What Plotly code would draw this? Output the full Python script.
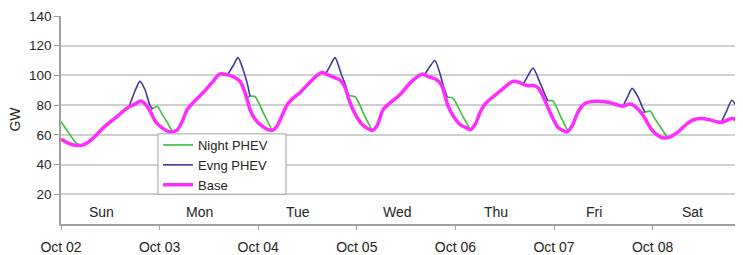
import plotly.graph_objects as go

# ---- data (hours since Oct 02 00:00, GW) ----
base_hours = [0, 1.7, 3.4, 5.1, 6.6, 8.3, 10, 12, 13.9, 15.6, 16.8, 18, 19.2, 20.2, 21.7, 23, 24.6, 26.5,
              28.2, 29.5, 30.7, 32.6, 34.6, 37, 38.7, 41.1, 42.4, 43.6, 44.3, 45.3, 46, 47.2, 48.9, 50.4,
              51.4, 52.6, 53.8, 55, 56.2, 58.2, 60.1, 62.3, 63.5, 64.7, 66.7, 67.9, 69.1, 70.3, 71.6, 73.3,
              74.8, 75.7, 76.9, 78.4, 80.1, 82.5, 85, 86.9, 88, 89.1, 90.3, 91.5, 92.7, 93.5, 94.2, 95.4,
              97.1, 98.8, 99.6, 100.8, 102, 103.2, 104.9, 106.9, 108.8, 110, 111.2, 112.5, 113.7, 114.9,
              116.1, 117.3, 118.5, 119.8, 121, 123.2, 124.4, 125.6, 126.8, 128.3, 130.7, 133.2, 135.6,
              136.8, 138.5, 140.2, 141.7, 143.4, 144.6, 146.5, 148.3, 150.2, 152.4, 153.8, 156, 158,
              159.9, 160.9, 163.3, 164.5, 165.8]
base_gw = [57, 54.5, 53, 53, 55, 59, 64, 68.7, 73, 77, 79.3, 80.7, 82.7, 81.5, 76, 69, 64.7, 62,
           63, 69, 77, 83, 88.5, 96, 101, 100, 98.5, 96, 92, 84, 77, 70.7, 66, 63.5,
           63, 66, 73, 80, 84, 88.5, 94, 100, 102, 100.7, 98.5, 96.9, 92, 82, 74, 67,
           64, 63, 66, 77, 81.5, 87, 95, 99.5, 101, 99.5, 98.5, 97, 93, 86, 79.5, 73,
           67, 64.5, 63.5, 67, 75, 80.7, 85, 89.5, 94, 96, 95.7, 94, 93, 93.3,
           91.7, 86, 78.5, 70.7, 65, 62, 66, 74, 79.5, 82, 82.7, 82, 80,
           79.3, 80.7, 78, 73, 65, 61, 58, 58.7, 62, 67.5, 70, 71, 70,
           68.7, 68.5, 71, 69.5, 65]

night_hours = [0, 1.7, 3.9, 5.1, None,
               21.6, 22.3, 23.4, 24.6, 25.8, 27, 28, None,
               45.2, 46, 47.2, 49.3, 51.4, None,
               69.6, 69.9, 71.6, 73.7, 75.7, None,
               93.6, 94, 95.4, 97.5, 99.6, None,
               117.8, 118.5, 119.7, 121.5, 123.4, None,
               141.3, 142.2, 143.4, 144.6, 147.8]
night_gw = [69, 62, 54, 53, None,
            76.5, 77.5, 79.3, 74, 68.7, 63, 63, None,
            85, 86, 85.8, 74.5, 63, None,
            87, 86.5, 85.5, 74, 63, None,
            86, 85.5, 84.7, 74, 63.5, None,
            84, 83, 83, 73, 62.5, None,
            75, 75.3, 76, 70.7, 57.5]

evng_hours = [16.6, 18, 19.2, 20.4, 21.7, 22.3, None,
              40.7, 42, 43.1, 44.3, 45.3, 46, None,
              64.5, 65.6, 66.7, 68.2, 69.3, 69.9, None,
              88.6, 89.8, 91, 92.3, 93.1, 94, None,
              112.5, 113.7, 114.9, 116.6, 117.8, 118.5, None,
              136.8, 137.9, 139, 140.5, 141.5, 142.2, None,
              160.7, 162, 163.3, 164.8, 166]
evng_gw = [79.2, 89.5, 96, 90.7, 79.5, 77.5, None,
           101, 107, 112, 104, 95, 86, None,
           101.5, 107, 112, 101, 93, 86.5, None,
           101, 106, 110, 100.7, 92.5, 85.5, None,
           94, 100, 105, 95, 87, 83, None,
           79.3, 85.5, 91.3, 85.3, 78.7, 75.3, None,
           68.5, 76, 83.3, 77, 69]

day_ticks = [0, 24, 48, 72, 96, 120, 144]
date_labels = ["Oct 02", "Oct 03", "Oct 04", "Oct 05", "Oct 06", "Oct 07", "Oct 08"]
day_names = ["Sun", "Mon", "Tue", "Wed", "Thu", "Fri", "Sat"]
y_ticks = [20, 40, 60, 80, 100, 120, 140]

FONT = "Liberation Sans, Arial, sans-serif"
TXT = "#262626"
AX = "#a0a0a0"

fig = go.Figure()
fig.add_trace(go.Scatter(x=night_hours, y=night_gw, mode="lines", name="Night PHEV",
                         line=dict(color="#3cbf3c", width=1.6, shape="spline", smoothing=0.7)))
fig.add_trace(go.Scatter(x=evng_hours, y=evng_gw, mode="lines", name="Evng PHEV",
                         line=dict(color="#3a3a9c", width=1.6, shape="spline", smoothing=0.7)))
fig.add_trace(go.Scatter(x=base_hours, y=base_gw, mode="lines", name="Base",
                         line=dict(color="#ff2bff", width=3.5, shape="spline", smoothing=0.7)))

for i, name in enumerate(day_names):
    fig.add_annotation(x=day_ticks[i] + 9.8, y=7.8, xref="x", yref="y", text=name, showarrow=False,
                       font=dict(family=FONT, size=14, color=TXT), yanchor="middle")

fig.add_annotation(x=-0.068, y=0.505, xref="paper", yref="paper", text="GW", textangle=-90,
                   xanchor="center", yanchor="middle",
                   showarrow=False, font=dict(family=FONT, size=14, color=TXT))

# legend frame (white box with grey border behind the legend entries)
fig.add_shape(type="rect", xref="paper", yref="paper", x0=0.1422, x1=0.33, y0=0.1429, y1=0.4333,
              fillcolor="white", line=dict(color=AX, width=1), layer="above")

fig.update_layout(
    width=735, height=247,
    margin=dict(l=53, r=0, t=8, b=29),
    paper_bgcolor="white", plot_bgcolor="white",
    font=dict(family=FONT, size=14, color=TXT),
    showlegend=True,
    legend=dict(x=0.1422, y=0.452, xanchor="left", yanchor="top", bgcolor="rgba(0,0,0,0)",
                borderwidth=0, font=dict(family=FONT, size=13, color=TXT),
                tracegroupgap=0),
    xaxis=dict(range=[0, 166], tickvals=day_ticks, ticktext=date_labels, showgrid=False,
               zeroline=False, showline=True, linecolor=AX, linewidth=1.5, ticks="outside",
               ticklen=4, tickcolor=AX, tickfont=dict(family=FONT, size=14, color=TXT),
               ticklabelstandoff=5),
    yaxis=dict(range=[0, 140], tickvals=y_ticks, showgrid=True, gridcolor="#cfcfcf", gridwidth=1.5,
               zeroline=False, showline=True, linecolor=AX, linewidth=1.5, ticks="outside",
               ticklen=5, tickcolor=AX, tickfont=dict(family=FONT, size=13.5, color=TXT)),
)

fig.write_html("out.html")
